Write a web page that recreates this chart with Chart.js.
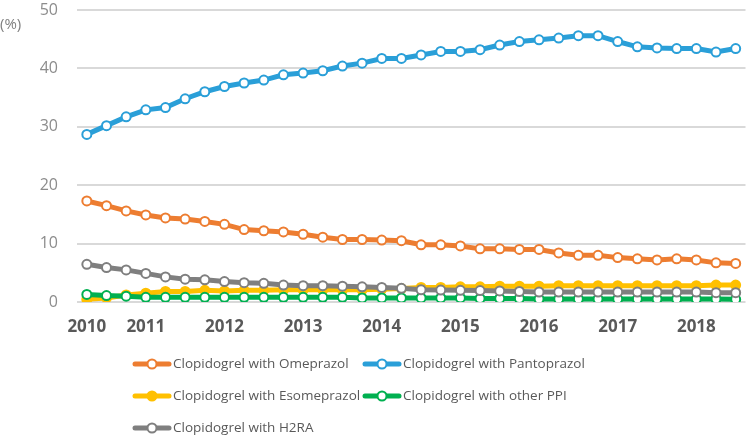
<!DOCTYPE html>
<html>
<head>
<meta charset="utf-8">
<script src="https://cdn.jsdelivr.net/npm/chart.js@4.4.1/dist/chart.umd.min.js"></script>
<style>
  html, body { margin: 0; padding: 0; background: #fff; }
  #wrap { position: relative; width: 752px; height: 436px; }
</style>
</head>
<body>
<div id="wrap"><canvas id="chart" width="752" height="436"></canvas></div>
<script>
// quarters, first point is 2010 Q2, last is 2018 Q3
const quarters = [
  "2010 Q2", "2010 Q3", "2010 Q4",
  "2011 Q1", "2011 Q2", "2011 Q3", "2011 Q4",
  "2012 Q1", "2012 Q2", "2012 Q3", "2012 Q4",
  "2013 Q1", "2013 Q2", "2013 Q3", "2013 Q4",
  "2014 Q1", "2014 Q2", "2014 Q3", "2014 Q4",
  "2015 Q1", "2015 Q2", "2015 Q3", "2015 Q4",
  "2016 Q1", "2016 Q2", "2016 Q3", "2016 Q4",
  "2017 Q1", "2017 Q2", "2017 Q3", "2017 Q4",
  "2018 Q1", "2018 Q2", "2018 Q3"
];

const omeprazol = [17.3, 16.5, 15.6, 14.9, 14.4, 14.2, 13.8, 13.3, 12.4, 12.2, 12.0, 11.6, 11.1, 10.7, 10.7, 10.6, 10.5,
  9.8, 9.8, 9.6, 9.1, 9.1, 9.0, 9.0, 8.4, 8.0, 8.0, 7.6, 7.4, 7.2, 7.4, 7.2, 6.7, 6.6];
const pantoprazol = [28.7, 30.2, 31.7, 32.9, 33.3, 34.8, 36.0, 36.9, 37.5, 38.0, 38.9, 39.2, 39.6, 40.4, 40.9, 41.7, 41.7,
  42.3, 42.9, 42.9, 43.2, 44.0, 44.6, 44.9, 45.2, 45.6, 45.6, 44.6, 43.7, 43.5, 43.4, 43.4, 42.8, 43.4];
const esomeprazol = [0.45, 0.7, 1.2, 1.5, 1.8, 1.8, 2.0, 1.9, 2.0, 2.0, 2.1, 2.1, 2.1, 2.1, 2.1, 2.2, 2.3,
  2.5, 2.5, 2.6, 2.6, 2.7, 2.7, 2.7, 2.8, 2.8, 2.8, 2.8, 2.8, 2.8, 2.8, 2.8, 2.9, 2.9];
const otherPPI = [1.3, 1.1, 1.0, 0.8, 0.8, 0.8, 0.8, 0.8, 0.8, 0.8, 0.8, 0.8, 0.8, 0.8, 0.7, 0.7, 0.7,
  0.7, 0.7, 0.7, 0.6, 0.6, 0.6, 0.5, 0.5, 0.5, 0.5, 0.5, 0.5, 0.5, 0.5, 0.5, 0.5, 0.45];
const h2ra = [6.45, 5.9, 5.5, 4.9, 4.3, 3.9, 3.8, 3.5, 3.3, 3.2, 2.9, 2.8, 2.8, 2.7, 2.6, 2.5, 2.35,
  2.1, 2.05, 2.0, 1.95, 1.9, 1.8, 1.7, 1.7, 1.7, 1.7, 1.7, 1.7, 1.7, 1.7, 1.7, 1.6, 1.6];

const yTicks = [0, 10, 20, 30, 40, 50];

function series(label, data, color, filled, order) {
  return {
    label: label,
    data: data,
    order: order,
    borderColor: color,
    backgroundColor: color,
    borderWidth: 5,
    pointRadius: 4.5,
    pointBorderWidth: 2,
    pointBackgroundColor: filled ? color : "#ffffff",
    pointBorderColor: color,
    tension: 0,
    fill: false
  };
}

// legend laid out in two columns under the plot, plus the "(%)" unit label
const sideText = {
  id: "sideText",
  afterDraw(chart) {
    const ctx = chart.ctx;
    ctx.save();
    ctx.fillStyle = "#7f7f7f";
    ctx.font = '15px "Open Sans"';
    ctx.textBaseline = "middle";
    ctx.fillText("(%)", 0, 25);

    ctx.font = '13.5px "Open Sans"';
    chart.data.datasets.forEach((ds, i) => {
      const x = i % 2 === 0 ? 133 : 363;
      const y = 364 + Math.floor(i / 2) * 32;
      ctx.strokeStyle = ds.borderColor;
      ctx.lineWidth = 5;
      ctx.lineCap = "round";
      ctx.beginPath();
      ctx.moveTo(x + 2, y);
      ctx.lineTo(x + 36, y);
      ctx.stroke();
      ctx.beginPath();
      ctx.arc(x + 19, y, 4.5, 0, Math.PI * 2);
      ctx.fillStyle = ds.pointBackgroundColor;
      ctx.fill();
      ctx.lineWidth = 2;
      ctx.stroke();
      ctx.fillStyle = "#595959";
      ctx.fillText(ds.label, x + 40, y);
    });
    ctx.restore();
  }
};

new Chart(document.getElementById("chart"), {
  type: "line",
  data: {
    labels: quarters,
    datasets: [
      series("Clopidogrel with Omeprazol", omeprazol, "#ED7D31", false, 5),
      series("Clopidogrel with Pantoprazol", pantoprazol, "#2A9FD8", false, 4),
      series("Clopidogrel with Esomeprazol", esomeprazol, "#FFC000", true, 3),
      series("Clopidogrel with other PPI", otherPPI, "#00B050", false, 2),
      series("Clopidogrel with H2RA", h2ra, "#7F7F7F", false, 1)
    ]
  },
  options: {
    responsive: false,
    animation: false,
    layout: { padding: { top: 10, right: 3, left: 0, bottom: 0 } },
    plugins: {
      legend: { display: false },
      tooltip: { enabled: false }
    },
    scales: {
      x: {
        offset: true,
        grid: { display: false },
        border: { display: false },
        ticks: {
          autoSkip: false,
          maxRotation: 0,
          padding: 7,
          color: "#595959",
          font: { family: "Open Sans", size: 17, weight: "bold" },
          callback: function (value, index) {
            const q = quarters[index];
            return (index === 0 || q.endsWith("Q1")) ? q.slice(0, 4) : "";
          }
        },
        afterFit(scale) { scale.height = 134; scale.paddingLeft = 0; scale.paddingRight = 0; }
      },
      y: {
        min: 0,
        max: 50,
        afterBuildTicks(scale) { scale.ticks = yTicks.map(v => ({ value: v })); },
        grid: { color: "#d9d9d9", lineWidth: 2, drawTicks: false },
        border: { display: false },
        ticks: {
          padding: 19,
          color: "#8c8c8c",
          font: { family: "Open Sans", size: 16 }
        },
        afterFit(scale) { scale.width = 77; scale.paddingTop = 0; scale.paddingBottom = 0; }
      }
    }
  },
  plugins: [sideText]
});
</script>
</body>
</html>
